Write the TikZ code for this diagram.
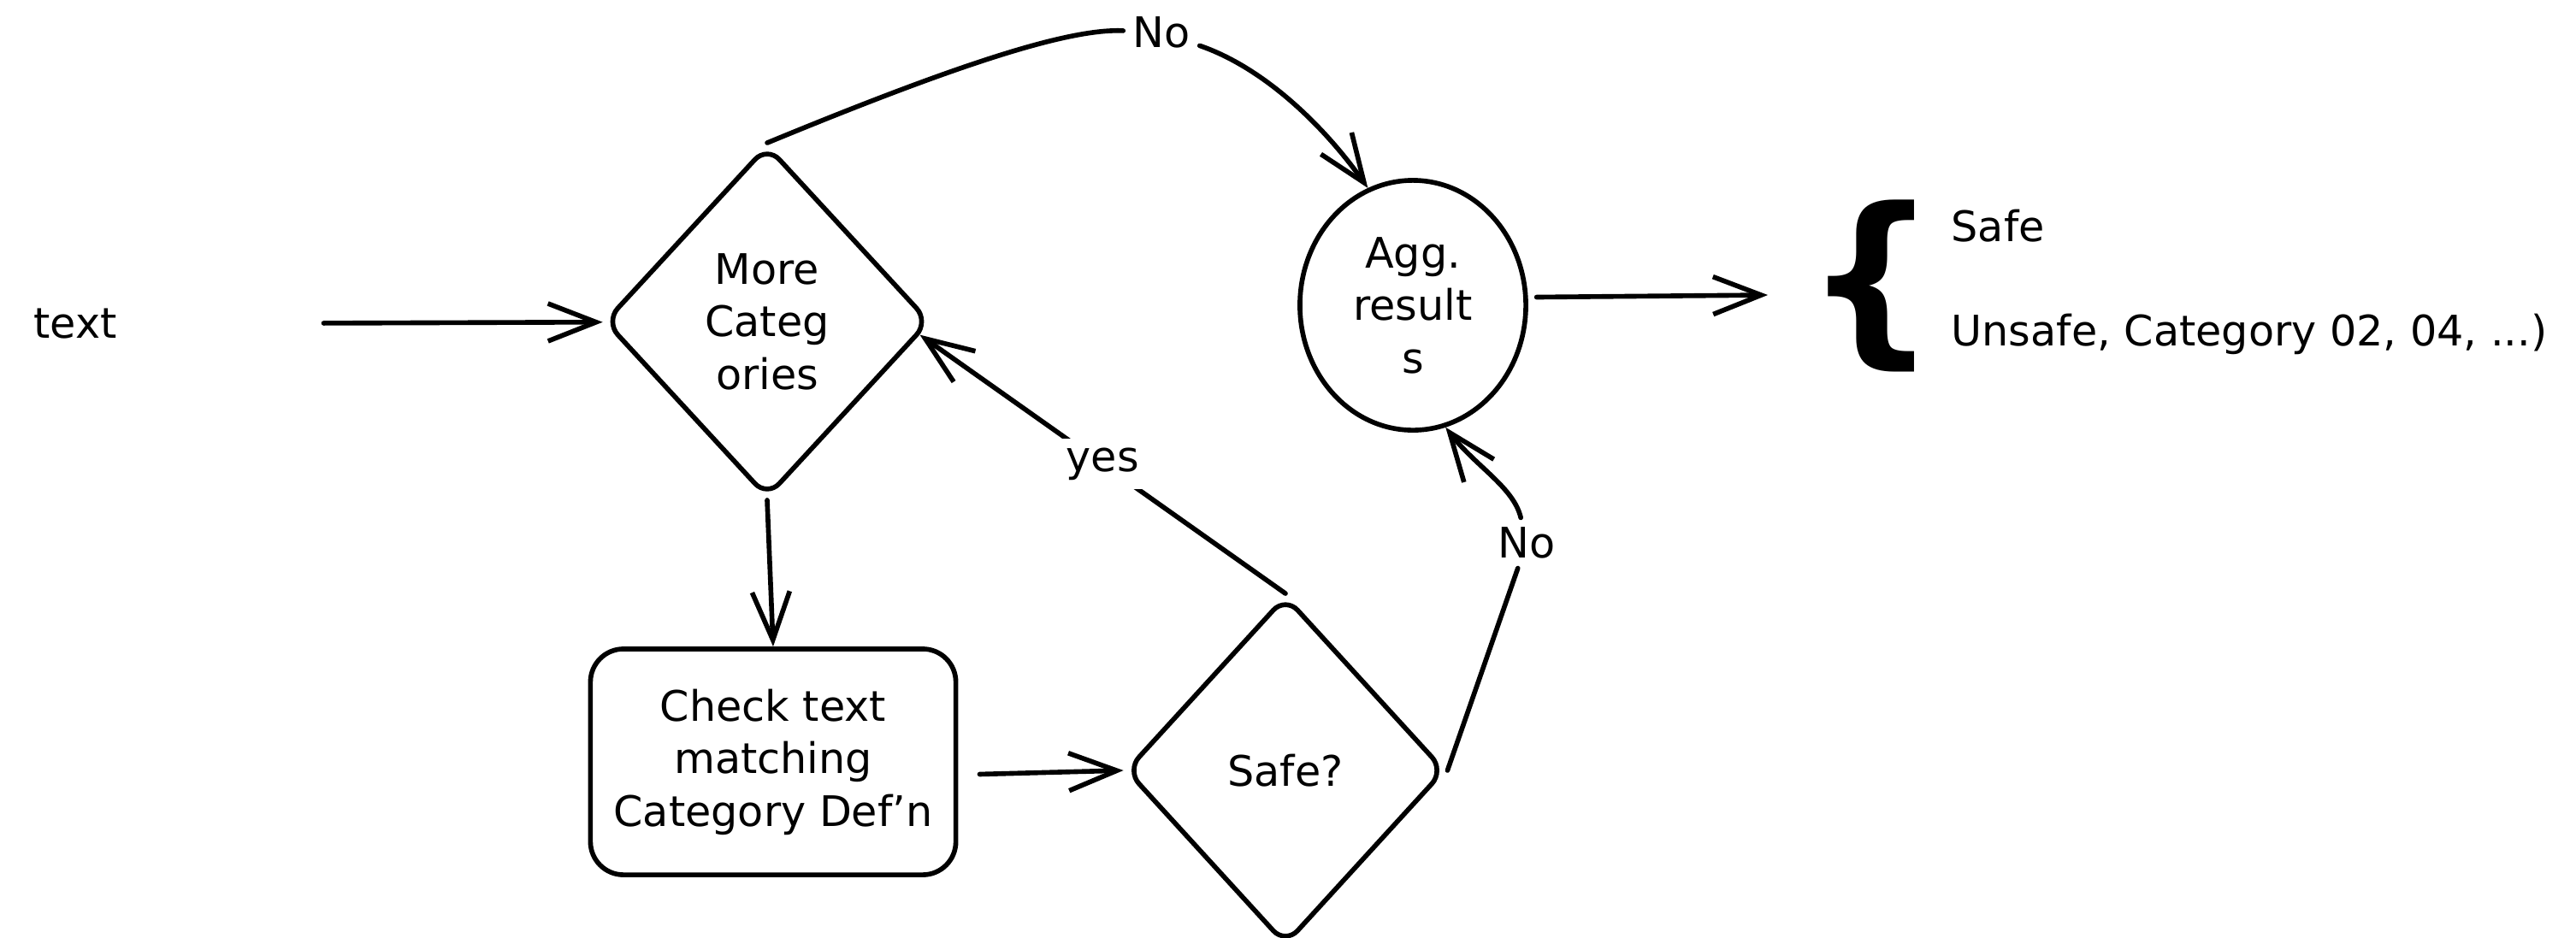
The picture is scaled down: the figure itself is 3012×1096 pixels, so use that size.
\documentclass[tikz,border=0pt]{standalone}
\usepackage{fontspec}
\setmainfont{DejaVu Sans}
\usetikzlibrary{arrows.meta,shapes.geometric}
\begin{document}
\begin{tikzpicture}[x=0.01cm,y=-0.01cm,
  every node/.style={font=\fontsize{14}{17.5}\selectfont, inner sep=2pt},
  ln/.style={line width=1.6pt, line cap=round, line join=round},
  arr/.style={ln, -{Straight Barb[length=16pt,width=12.5pt]}},
  dec/.style={draw, ln, shape=diamond, rounded corners=6pt, align=center, inner sep=0pt},
  lbl/.style={fill=white, inner sep=3pt}]
\fill[white] (0,0) rectangle (3012,1096);
\useasboundingbox (0,0) rectangle (3012,1096);
% nodes
\node (txt) at (88,379) {text};
\node[dec, minimum width=3.80cm, minimum height=4.12cm] (d1) at (897,376) {More\\Categ\\ories};
\node[draw, ln, rounded corners=11pt, minimum width=4.27cm, minimum height=2.64cm, align=center] (chk) at (904,891) {Check text\\matching\\Category Def'n};
\node[dec, minimum width=3.73cm, minimum height=4.08cm] (d2) at (1503,901) {Safe?};
\node[draw, ln, ellipse, minimum width=2.64cm, minimum height=2.92cm, align=center, inner sep=0pt] (agg) at (1652,357) {Agg.\\result\\s};
\node (br) at (2188,334) {\fontsize{62}{62}\selectfont\bfseries\{};
\node[anchor=west, inner sep=0pt] (safe) at (2281,264) {Safe};
\node[anchor=west, inner sep=0pt] (unsafe) at (2281,391) {Unsafe, Category 02, 04, ...)};
\node[lbl] (noT) at (1358,38) {No};
\node[lbl] (noR) at (1785,635) {No};
\coordinate (outTip) at (2067,345);
% connectors
\draw[arr, shorten <=2.34cm] (txt) -- (d1);
\draw[arr] (d1.south) -- (chk.north);
\draw[arr, shorten <=0.25cm] (chk.-4) -- (d2.west);
\draw[arr] (d2.north) -- node[lbl] (yesl) {yes} (d1.-5);
\draw[ln] (d1.north) .. controls (1120,75) and (1250,33) .. (noT);
\draw[arr] (noT) .. controls (1480,80) and (1550,150) .. (agg.111);
\draw[ln] (d2.east) -- (noR);
\draw[arr] (noR) .. controls (1770,570) and (1725,545) .. (agg.-75);
\draw[arr, shorten <=0.1cm] (agg.4) -- (outTip);
\end{tikzpicture}
\end{document}
